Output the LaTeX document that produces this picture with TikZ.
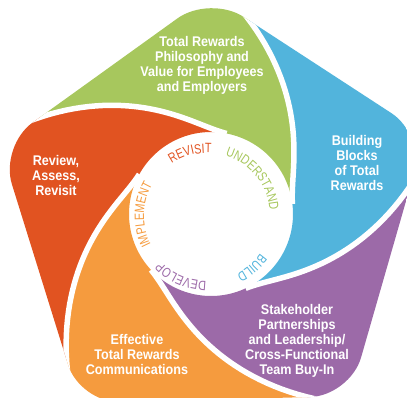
\documentclass[tikz,border=0pt]{standalone}
\usepackage{fontspec}
\setmainfont{Liberation Sans}
\newfontfamily\lblfont[FakeStretch=0.9]{Liberation Sans}
\newfontfamily\ringfont[FakeStretch=0.8]{Liberation Sans}
\usetikzlibrary{decorations.text,calc}
\definecolor{cred}{RGB}{225,83,33}
\definecolor{cgreen}{RGB}{167,199,93}
\definecolor{cblue}{RGB}{82,180,220}
\definecolor{cpurple}{RGB}{156,106,168}
\definecolor{corange}{RGB}{245,155,62}
\begin{document}
\begin{tikzpicture}[x=1pt,y=1pt,
  lbl/.style={text=white, font=\lblfont\bfseries\fontsize{14}{15}\selectfont, align=center, inner sep=0pt},
  gap/.style={draw=white, line width=5.5pt},
]
\useasboundingbox (0,-398) rectangle (407,0);
\clip (0,-398) rectangle (407,0);
\coordinate (ctr) at (207,-216);
\begin{scope}
\clip[rounded corners=40pt] (317.5,-65) -- (425,-135) -- (350,-396) -- (80,-403) -- (0,-146) -- (210,5) -- cycle;
\foreach \sa/\col in {79/cred,7/cgreen,-65/cblue,-137/cpurple,151/corange}{
  \pgfmathsetmacro{\sb}{\sa+72}
  \fill[\col] plot[domain=0:110,samples=60,variable=\t] ({211+(82+0.1*\t+0.021*\t*\t)*cos(\sa+\t)},{-214+(82+0.1*\t+0.021*\t*\t)*sin(\sa+\t)})
   -- ({211+460*cos(\sa+146)},{-214+460*sin(\sa+146)})
   -- plot[domain=110:0,samples=60,variable=\t] ({211+(82+0.1*\t+0.021*\t*\t)*cos(\sb+\t)},{-214+(82+0.1*\t+0.021*\t*\t)*sin(\sb+\t)})
   -- plot[domain=\sb:\sa,samples=40,variable=\t] ({211+82*cos(\t)},{-214+82*sin(\t)}) -- cycle;
}
\foreach \sa in {79,7,-65,-137,151}{
  \draw[gap] plot[domain=0:110,samples=60,variable=\t] ({211+(82+0.1*\t+0.021*\t*\t)*cos(\sa+\t)},{-214+(82+0.1*\t+0.021*\t*\t)*sin(\sa+\t)});
}
\end{scope}
\node[lbl] (lgreen) at (202,-65) {Total Rewards\\Philosophy and\\Value for Employees\\and Employers};
\node[lbl] (lblue) at (357,-163) {Building\\Blocks\\of Total\\Rewards};
\node[lbl] (lred) at (56,-175) {Review,\\Assess,\\Revisit};
\node[lbl] (lpurple) at (297,-341) {Stakeholder\\Partnerships\\and Leadership/\\Cross-Functional\\Team Buy-In};
\node[lbl] (lorange) at (137,-354) {Effective\\Total Rewards\\Communications};
\path[decorate, decoration={text along path, text align=center, text={|\ringfont\fontsize{13.5}{13.5}\selectfont\color{cred}|REVISIT}}] ($(ctr)+(165:63)$) arc[start angle=165, end angle=45, radius=63];
\path[decorate, decoration={text along path, text align=center, text={|\ringfont\fontsize{13.5}{13.5}\selectfont\color{cgreen}|UNDERSTAND}}] ($(ctr)+(110:63)$) arc[start angle=110, end angle=-32, radius=63];
\path[decorate, decoration={text along path, text align=center, text={|\ringfont\fontsize{13.5}{13.5}\selectfont\color{cblue}|BUILD}}] ($(ctr)+(0:65)$) arc[start angle=0, end angle=-98, radius=65];
\path[decorate, decoration={text along path, text align=center, text={|\ringfont\fontsize{13.5}{13.5}\selectfont\color{cpurple}|DEVELOP}}] ($(ctr)+(-58:65)$) arc[start angle=-58, end angle=-168, radius=65];
\path[decorate, decoration={text along path, text align=center, text={|\ringfont\fontsize{13.5}{13.5}\selectfont\color{corange}|IMPLEMENT}}] ($(ctr)+(240:63)$) arc[start angle=240, end angle=117, radius=63];
\end{tikzpicture}
\end{document}
